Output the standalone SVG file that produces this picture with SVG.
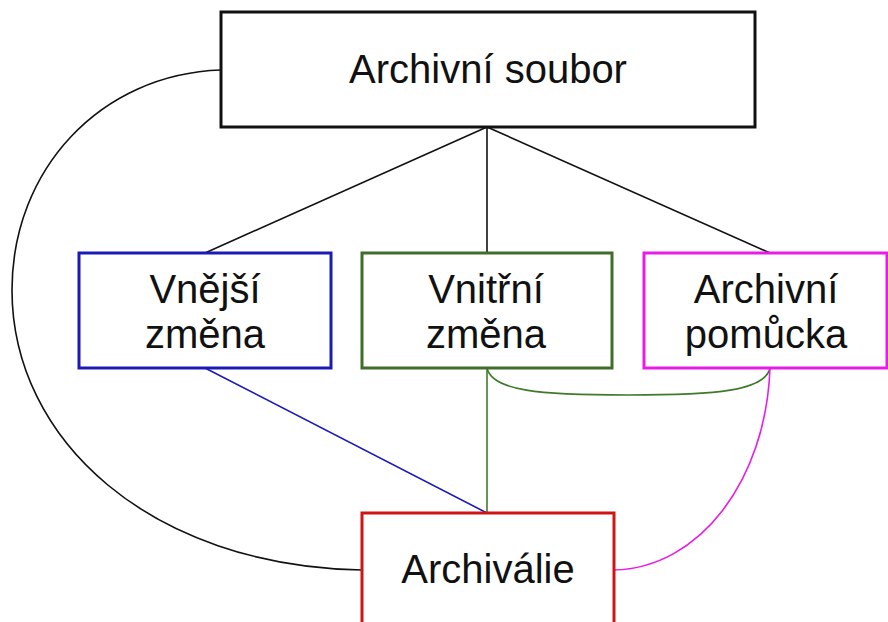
<svg xmlns="http://www.w3.org/2000/svg" width="888" height="622" viewBox="0 0 888 622">
  <style>
    .box { fill: #ffffff; stroke-width: 3; }
    .lbl { font-family: "Liberation Sans", Arial, sans-serif; font-size: 40px; fill: #111111; text-anchor: middle; }
    .con { fill: none; stroke-width: 1.6; }
  </style>
  <rect width="888" height="622" fill="#ffffff"/>

  <g id="connectors">
    <!-- hierarchy from the top box -->
    <line class="con" stroke="#111111" x1="487" y1="127" x2="205" y2="253"/>
    <line class="con" stroke="#111111" x1="487" y1="127" x2="487" y2="253"/>
    <line class="con" stroke="#111111" x1="487" y1="127" x2="770" y2="253"/>
    <!-- outer arc from the top box to the bottom box -->
    <path class="con" stroke="#111111" d="M221,70 C100,74 12,170 12,290 C12,440 150,566 362,570"/>
    <!-- links into the bottom box -->
    <line class="con" stroke="#1a1ab8" x1="205" y1="368" x2="487" y2="513"/>
    <line class="con" stroke="#3f7a2a" x1="487" y1="368" x2="487" y2="513"/>
    <path class="con" stroke="#3f7a2a" d="M487,368 C492,391 540,395 628,395 C716,395 765,391 770,368"/>
    <path class="con" stroke="#e81ce8" d="M770,368 C766,480 700,568 614,570"/>
  </g>

  <g id="archivni-soubor">
    <rect class="box" stroke="#111111" x="221" y="12" width="534" height="115"/>
    <text class="lbl" x="488" y="83">Archivní soubor</text>
  </g>

  <g id="vnejsi-zmena">
    <rect class="box" stroke="#1a1ab8" x="79" y="253" width="252" height="115"/>
    <text class="lbl" x="205" y="303">Vnější</text>
    <text class="lbl" x="205" y="348">změna</text>
  </g>

  <g id="vnitrni-zmena">
    <rect class="box" stroke="#3f6e2a" x="362" y="253" width="250" height="115"/>
    <text class="lbl" x="486" y="303">Vnitřní</text>
    <text class="lbl" x="486" y="348">změna</text>
  </g>

  <g id="archivni-pomucka">
    <rect class="box" stroke="#e81ce8" x="644" y="253" width="243" height="115"/>
    <text class="lbl" x="766" y="303">Archivní</text>
    <text class="lbl" x="766" y="348">pomůcka</text>
  </g>

  <g id="archivalie">
    <rect class="box" stroke="#d01414" x="362" y="513" width="252" height="120"/>
    <text class="lbl" x="488" y="583">Archiválie</text>
  </g>
</svg>
